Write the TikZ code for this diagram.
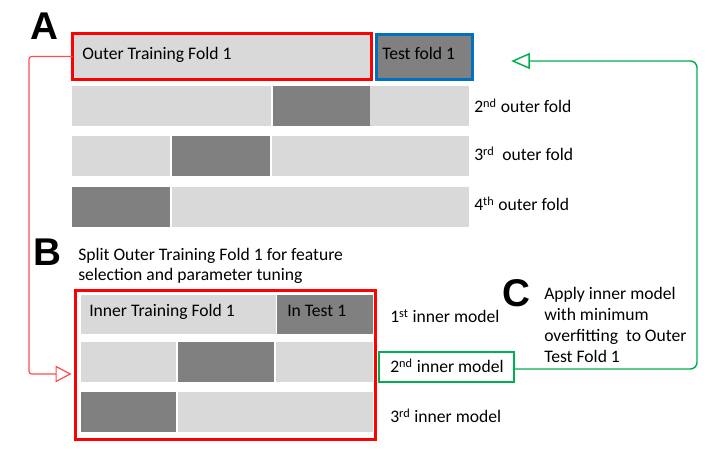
\documentclass[tikz,border=0pt]{standalone}
\usepackage{fontspec}
\setmainfont{Carlito}
\newfontfamily\letterfont{Liberation Sans}
\usetikzlibrary{arrows.meta}
\definecolor{lightbar}{HTML}{D9D9D9}
\definecolor{darkbar}{HTML}{808080}
\definecolor{foldred}{HTML}{FF0000}
\definecolor{foldblue}{HTML}{0070C0}
\definecolor{foldgreen}{HTML}{00B050}
\begin{document}
\begin{tikzpicture} [x=0.75pt, y=-0.75pt, font=\fontsize{13.2}{15}\selectfont,
    wd/.style={minimum width=#1*0.75pt},
    ht/.style={minimum height=#1*0.75pt},
    seg/.style={rectangle, inner sep=0pt, outer sep=0pt, anchor=north west, ht=40},
    light/.style={seg, fill=lightbar},
    dark/.style={seg, fill=darkbar},
    lbl/.style={inner sep=0pt, anchor=base west},
    panel/.style={font=\letterfont\bfseries\fontsize{29}{29}\selectfont, inner sep=0pt},
    redlink/.style={draw=foldred!70, line width=0.9pt, rounded corners=2pt,
        -{Triangle[open, length=12pt, width=12.5pt, fill=white]}},
    greenlink/.style={draw=foldgreen, line width=1.1pt, rounded corners=5pt,
        -{Triangle[open, length=14pt, width=12pt, fill=white]}},]
\useasboundingbox (0,0) rectangle (708,459);

\node[panel] (panelA) at (44,26) {A};
\node[panel] (panelB) at (47,252) {B};
\node[panel] (panelC) at (516,293) {C};

\node[light, wd=299, ht=46, draw=foldred, line width=2.25pt] (otrain) at (72.5,33.5) {};
\node[dark, wd=96, ht=45, draw=foldblue, line width=2.25pt] (testfold) at (376.5,34.5) {};
\node[lbl] (otrainlbl) at (82,60) {Outer Training Fold 1};
\node[lbl] (testlbl) at (382,60) {Test fold 1};

\node[light, wd=199] (o2a) at (72,86) {};
\node[dark, wd=97] (o2b) at (273,86) {};
\node[light, wd=99] (o2c) at (370,86) {};
\node[lbl] (o2lbl) at (474,113) {2\textsuperscript{nd} outer fold};

\node[light, wd=98] (o3a) at (72,136) {};
\node[dark, wd=98] (o3b) at (172,136) {};
\node[light, wd=197] (o3c) at (272,136) {};
\node[lbl] (o3lbl) at (474,161) {3\textsuperscript{rd}\ \ outer fold};

\node[dark, wd=98] (o4a) at (72,187) {};
\node[light, wd=297] (o4b) at (172,187) {};
\node[lbl] (o4lbl) at (474,211) {4\textsuperscript{th} outer fold};

\node[anchor=north west, inner sep=0pt, align=left] (splitlbl) at (78,248)
    {Split Outer Training Fold 1 for feature\\selection and parameter tuning};

\node[seg, wd=300, ht=149, draw=foldred, line width=2.25pt] (inbox) at (75.5,290.5) {};

\node[light, wd=195, ht=39] (i1a) at (81,295) {};
\node[dark, wd=96, ht=39] (i1b) at (277,295) {};
\node[lbl] (itrainlbl) at (89,317) {Inner Training Fold 1};
\node[lbl] (itestlbl) at (287,317) {In Test 1};
\node[lbl] (i1lbl) at (390,323) {1\textsuperscript{st} inner model};

\node[light, wd=95] (i2a) at (81,342) {};
\node[dark, wd=96] (i2b) at (178,342) {};
\node[light, wd=97] (i2c) at (276,342) {};
\node[seg, wd=135, ht=30, draw=foldgreen, line width=1.5pt] (inner2) at (379,352) {};
\node[lbl] (i2lbl) at (390,373) {2\textsuperscript{nd} inner model};

\node[dark, wd=95] (i3a) at (81,392) {};
\node[light, wd=195] (i3b) at (178,392) {};
\node[lbl] (i3lbl) at (390,423) {3\textsuperscript{rd} inner model};

\node[anchor=north west, inner sep=0pt, align=left, font=\fontsize{13.2}{15.75}\selectfont] (applylbl) at (544,287)
    {Apply inner model\\with minimum\\overfitting\ \ to Outer\\Test Fold 1};

\coordinate (redcorner) at (29,374);
\coordinate (greencorner) at (697,61);
\draw[redlink, shorten >=3pt] (otrain.west) -| (redcorner) -- (inbox.west |- redcorner);
\draw[greenlink, shorten >=29pt] ([yshift=-1.5pt]inner2.east) -| (greencorner) -- (testfold.east |- greencorner);

\end{tikzpicture}
\end{document}
